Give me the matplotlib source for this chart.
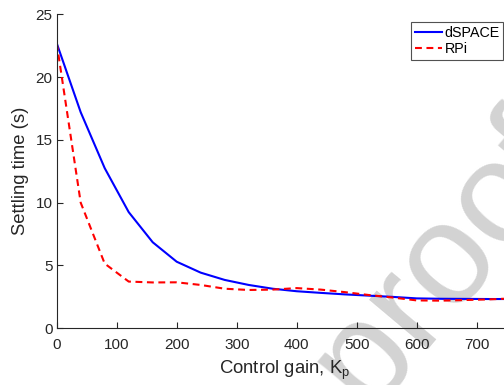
import matplotlib
matplotlib.use("Agg")
import matplotlib.pyplot as plt

plt.rcParams['font.family'] = ['Liberation Sans', 'DejaVu Sans']
plt.rcParams['mathtext.fontset'] = 'custom'
plt.rcParams['mathtext.rm'] = 'Liberation Sans'
plt.rcParams['mathtext.it'] = 'Liberation Sans'

kp = [0, 40, 80, 120, 160, 200, 240, 280, 320, 360, 400, 440, 480, 520, 560, 600, 640, 680, 720, 760]
dspace = [22.7, 17.2, 12.75, 9.25, 6.85, 5.3, 4.43, 3.85, 3.45, 3.15, 2.95, 2.82, 2.7, 2.6, 2.5, 2.38, 2.35, 2.34, 2.33, 2.33]
rpi = [22.7, 10.0, 5.15, 3.72, 3.65, 3.66, 3.45, 3.15, 3.05, 3.08, 3.2, 3.08, 2.88, 2.65, 2.45, 2.22, 2.2, 2.25, 2.3, 2.38]
xticks = [0, 100, 200, 300, 400, 500, 600, 700]
yticks = [0, 5, 10, 15, 20, 25]

fig = plt.figure(figsize=(5.04, 3.85), dpi=100)
ax = fig.add_axes([0.1125, 0.1473, 0.9048, 0.8156])
ax.set_facecolor('none')

# watermark
fig.text(1.155, 0.569, 'Journal Pre-proof', fontsize=104, color='#d3d3d3',
         rotation=50, rotation_mode='anchor', ha='right', va='baseline', zorder=-1)

ax.plot(kp, dspace, color='#0000ff', lw=1.5, label='dSPACE')
ax.plot(kp, rpi, color='#ff0000', lw=1.5, ls=(0, (3.3, 2.2)), label='RPi')

ax.set_xlim(0, 760)
ax.set_ylim(0, 25)
ax.set_xticks(xticks)
ax.set_yticks(yticks)
ax.spines['top'].set_visible(False)
ax.spines['right'].set_visible(False)
for s in ['left', 'bottom']:
    ax.spines[s].set_color('#262626')
    ax.spines[s].set_linewidth(0.8)
ax.tick_params(direction='in', length=4, width=0.8, color='#262626', labelcolor='#262626', labelsize=11)
ax.tick_params(axis='x', pad=7)
ax.tick_params(axis='y', pad=3)
ax.set_xlabel('Control gain, K$_\\mathrm{p}$', fontsize=13.3, color='#262626', labelpad=5)
ax.set_ylabel('Settling time (s)', fontsize=13.3, color='#262626', labelpad=5)

leg = ax.legend(loc='upper left', bbox_to_anchor=(0.777, 0.9755), fontsize=10.3, frameon=True,
                fancybox=False, edgecolor='#262626', handlelength=1.95, handletextpad=0.15,
                borderpad=0.25, labelspacing=0.2, borderaxespad=0)
leg.get_frame().set_linewidth(0.8)

fig.savefig('out.png', dpi=100)
